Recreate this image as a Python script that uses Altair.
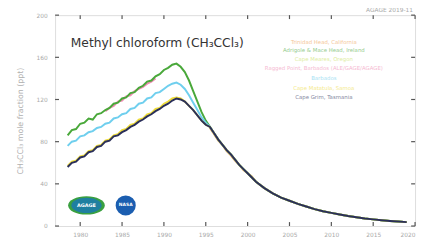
import altair as alt
import pandas as pd

# ---------------- data ----------------
YEARS_EARLY = [1978.5, 1979.0, 1979.5, 1980.0, 1980.5, 1981.0, 1981.5, 1982.0, 1982.5,
               1983.0, 1983.5, 1984.0, 1984.5, 1985.0, 1985.5, 1986.0, 1986.5, 1987.0,
               1987.5, 1988.0, 1988.5, 1989.0, 1989.5, 1990.0, 1990.5, 1991.0, 1991.5,
               1992.0, 1992.5, 1993.0, 1993.5, 1994.0, 1994.5, 1995.0]

GREEN_EARLY = [86, 91, 92, 97, 98, 102, 101, 106, 107, 110, 112, 116, 117, 121, 122, 126, 127,
               131, 133, 137, 138, 142, 144, 148, 150, 153, 154, 151, 146, 138, 128, 118, 108, 100]
CYAN_EARLY = [76, 80, 81, 85, 86, 89, 90, 93, 94, 97, 98, 102, 103, 106, 107, 111, 112, 116,
              117, 121, 122, 126, 127, 130, 133, 135, 136, 134, 130, 124, 117, 110, 103, 98]
NAVY_EARLY = [56, 60, 61, 65, 66, 70, 71, 75, 76, 80, 81, 85, 86, 89, 91, 94, 96, 99, 101,
              104, 106, 109, 111, 114, 116, 119, 121, 120, 118, 114, 110, 105, 100, 96]
YELLOW_EARLY = [57, 61, 62, 66, 67, 71, 72, 76, 77, 81, 82, 86, 87, 91, 92, 96, 97, 101, 102,
                106, 107, 111, 112, 116, 118, 121, 122, 121, 118, 114, 110, 105, 100, 96]

PINK_YEARS = [1983.0, 1983.5, 1984.0, 1984.5, 1985.0, 1985.5, 1986.0, 1986.5, 1987.0,
              1987.5, 1988.0, 1988.5, 1989.0]
PINK_VALUES = [109, 112, 114, 118, 119, 123, 124, 128, 130, 132, 135, 137, 140]

YEARS_LATE = [1995.5, 1996.0, 1996.5, 1997.0, 1997.5, 1998.0, 1998.5, 1999.0, 1999.5,
              2000.0, 2000.5, 2001.0, 2002.0, 2003.0, 2004.0, 2005.0, 2006.0, 2007.0,
              2008.0, 2009.0, 2010.0, 2011.0, 2012.0, 2013.0, 2014.0, 2015.0, 2016.0,
              2017.0, 2018.0, 2019.0]
LATE_VALUES = [94, 88, 82, 77, 72, 68, 63, 58, 54, 50, 46, 42, 36, 31, 27, 24, 21, 18.5,
               16, 14, 12.5, 11, 9.5, 8.3, 7.2, 6.3, 5.5, 4.8, 4.2, 3.7]
ORANGE_VALUES = [93, 87, 81, 77, 71, 67, 62, 58, 53, 50, 47, 42, 36, 31, 27, 24, 21, 18.5,
                 16, 14, 12.5, 11, 9.5, 8.3, 7.2, 6.3, 5.5, 4.8, 4.2, 3.7]

SERIES = ["Trinidad Head, California", "Adrigole & Mace Head, Ireland", "Cape Meares, Oregon",
          "Ragged Point, Barbados (ALE/GAGE/AGAGE)", "Barbados", "Cape Matatula, Samoa",
          "Cape Grim, Tasmania"]
COLORS = ["#f0a050", "#49a83a", "#c8df5a", "#f08cb4", "#6fcfee", "#eedc3a", "#2a2f5a"]

X_TICKS = [1980, 1985, 1990, 1995, 2000, 2005, 2010, 2015, 2020]
Y_TICKS = [0, 40, 80, 120, 160, 200]

rows = []
def add(name, years, vals, rank):
    for y, v in zip(years, vals):
        rows.append({"series": name, "year": y, "ppt": v, "rank": rank})

add(SERIES[0], YEARS_LATE, ORANGE_VALUES, 0)
add(SERIES[3], PINK_YEARS, PINK_VALUES, 1)
add(SERIES[1], YEARS_EARLY + YEARS_LATE, GREEN_EARLY + LATE_VALUES, 2)
add(SERIES[4], YEARS_EARLY + YEARS_LATE, CYAN_EARLY + LATE_VALUES, 3)
add(SERIES[5], YEARS_EARLY + YEARS_LATE, YELLOW_EARLY + LATE_VALUES, 4)
add(SERIES[6], YEARS_EARLY + YEARS_LATE, NAVY_EARLY + LATE_VALUES, 5)
df = pd.DataFrame(rows)

W, H = 367, 215

xs = alt.Scale(domain=[1977, 2020], nice=False)
ys = alt.Scale(domain=[0, 200], nice=False)
cs = alt.Scale(domain=SERIES, range=COLORS)

def series_line(rank):
    return alt.Chart(df).transform_filter(alt.datum.rank == rank).mark_line(
        strokeWidth=2, interpolate="linear"
    ).encode(
        x=alt.X("year:Q", scale=xs,
                axis=alt.Axis(values=X_TICKS, format="d", title=None, ticks=False, domain=False,
                              grid=False, labelFontSize=6, labelColor="#aaaaaa", labelPadding=6,
                              labelFont="DejaVu Sans")),
        y=alt.Y("ppt:Q", scale=ys,
                axis=alt.Axis(values=Y_TICKS, title="CH\u2083CCl\u2083 mole fraction (ppt)",
                              ticks=False, domain=False, grid=False, labelFontSize=6,
                              labelColor="#aaaaaa", labelPadding=8, labelFont="DejaVu Sans",
                              titleFontSize=8, titleColor="#b0b0b0", titleFontWeight="normal",
                              titlePadding=12, titleFont="DejaVu Sans")),
        color=alt.Color("series:N", scale=cs, legend=None),
        order=alt.Order("year:Q"),
    )

line_layers = [series_line(r) for r in range(6)]

xt = pd.DataFrame({"year": X_TICKS})
yt = pd.DataFrame({"ppt": Y_TICKS})
tick_style = dict(color="#555555", strokeWidth=1.2)
bt = alt.Chart(xt).mark_rule(**tick_style).encode(x=alt.X("year:Q", scale=xs), y=alt.value(H), y2=alt.value(H - 4))
tt = alt.Chart(xt).mark_rule(**tick_style).encode(x=alt.X("year:Q", scale=xs), y=alt.value(0), y2=alt.value(4))
lt = alt.Chart(yt).mark_rule(**tick_style).encode(y=alt.Y("ppt:Q", scale=ys), x=alt.value(0), x2=alt.value(4))
rt = alt.Chart(yt).mark_rule(**tick_style).encode(y=alt.Y("ppt:Q", scale=ys), x=alt.value(W - 4), x2=alt.value(W))

title = alt.Chart(pd.DataFrame({"t": ["Methyl chloroform (CH\u2083CCl\u2083)"]})).mark_text(
    align="left", baseline="middle", fontSize=12.5, color="#333333", font="DejaVu Sans"
).encode(x=alt.value(16), y=alt.value(28), text="t:N")

LEG_Y = [27, 36, 45, 54, 64, 74, 83]
legend_layers = []
for name, col, ly in zip(SERIES, COLORS, LEG_Y):
    legend_layers.append(
        alt.Chart(pd.DataFrame({"name": [name]})).mark_text(
            align="center", baseline="middle", fontSize=5.5, font="DejaVu Sans",
            color=col, opacity=0.6
        ).encode(x=alt.value(274), y=alt.value(ly), text="name:N")
    )

stamp = alt.Chart(pd.DataFrame({"t": ["AGAGE 2019-11"]})).mark_text(
    align="right", baseline="middle", fontSize=6, color="#aaaaaa", font="DejaVu Sans"
).encode(x=alt.value(W - 2), y=alt.value(-5), text="t:N")

ellipse = "M-1,0 A1,0.5 0 1,0 1,0 A1,0.5 0 1,0 -1,0 Z"
agage_outer = alt.Chart(pd.DataFrame({"a": [1]})).mark_point(
    shape=ellipse, filled=True, color="#3aa040", size=1400, opacity=1
).encode(x=alt.value(32), y=alt.value(194))
agage_inner = alt.Chart(pd.DataFrame({"a": [1]})).mark_point(
    shape=ellipse, filled=True, color="#1f7fa0", size=950, opacity=1
).encode(x=alt.value(32), y=alt.value(194))
agage_txt = alt.Chart(pd.DataFrame({"t": ["AGAGE"]})).mark_text(
    fontSize=5, color="white", fontWeight="bold", font="DejaVu Sans"
).encode(x=alt.value(32), y=alt.value(194), text="t:N")
nasa = alt.Chart(pd.DataFrame({"a": [1]})).mark_point(
    shape="circle", filled=True, color="#1b5eb0", size=420, opacity=1
).encode(x=alt.value(72), y=alt.value(194))
nasa_txt = alt.Chart(pd.DataFrame({"t": ["NASA"]})).mark_text(
    fontSize=4.5, color="white", fontWeight="bold", font="DejaVu Sans"
).encode(x=alt.value(72), y=alt.value(194), text="t:N")

chart = alt.layer(
    *line_layers, bt, tt, lt, rt, title, *legend_layers, stamp,
    agage_outer, agage_inner, agage_txt, nasa, nasa_txt
).properties(
    width=W, height=H,
    autosize=alt.AutoSizeParams(type="none"),
    padding={"left": 48, "top": 5, "right": 3, "bottom": 14},
).configure_view(stroke="#666666", strokeWidth=1).configure(background="white")

chart.save("out.html", embed_options={"renderer": "svg", "actions": False})
